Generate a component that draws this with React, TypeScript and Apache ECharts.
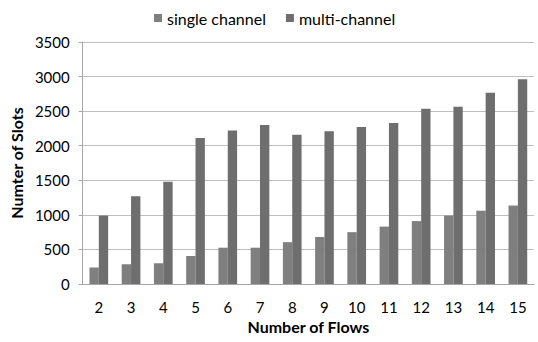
import React, { useEffect, useRef } from "react";
import * as echarts from "echarts";

const categories = ["2", "3", "4", "5", "6", "7", "8", "9", "10", "11", "12", "13", "14", "15"];
const singleChannel = [240, 285, 300, 405, 525, 525, 605, 680, 750, 830, 910, 990, 1060, 1135];
const multiChannel = [990, 1270, 1480, 2110, 2220, 2300, 2160, 2210, 2270, 2330, 2535, 2565, 2765, 2960];
const seriesNames = ["single channel", "multi-channel"];

const FONT = "Lato, 'Open Sans', sans-serif";

export default function App() {
  const ref = useRef<HTMLDivElement>(null);
  useEffect(() => {
    if (!ref.current) return;
    const chart = echarts.init(ref.current, undefined, { renderer: "svg" });
    chart.setOption({
      animation: false,
      backgroundColor: "#ffffff",
      textStyle: { fontFamily: FONT },
      legend: {
        data: seriesNames,
        left: 149,
        top: 5,
        itemWidth: 8,
        itemHeight: 8,
        itemGap: 20,
        icon: "rect",
        textStyle: { fontFamily: FONT, fontSize: 16, color: "#000" },
      },
      grid: { left: 82, right: 4, top: 42, bottom: 58, containLabel: false },
      xAxis: {
        type: "category",
        data: categories,
        name: "Number of Flows",
        nameLocation: "middle",
        nameGap: 30,
        nameTextStyle: { fontFamily: FONT, fontSize: 16, fontWeight: "bold", color: "#000" },
        axisLine: { lineStyle: { color: "#a6a6a6" } },
        axisTick: { show: false },
        axisLabel: { fontFamily: FONT, fontSize: 15, color: "#000", margin: 15 },
      },
      yAxis: {
        type: "value",
        min: 0,
        max: 3500,
        interval: 500,
        name: "Numter of Slots",
        nameLocation: "middle",
        nameGap: 46,
        nameTextStyle: { fontFamily: FONT, fontSize: 16, fontWeight: "bold", color: "#000" },
        axisLine: { show: true, lineStyle: { color: "#a6a6a6" } },
        axisTick: { show: true, length: 4, lineStyle: { color: "#a6a6a6" } },
        axisLabel: {
          fontFamily: FONT,
          fontSize: 15,
          color: "#000",
          margin: 13,
          formatter: (v: number) => String(v),
        },
        splitLine: { lineStyle: { color: "#bfbfbf" } },
      },
      series: [
        {
          name: seriesNames[0],
          type: "bar",
          data: singleChannel,
          barGap: "0%",
          barCategoryGap: "42%",
          itemStyle: { color: "#7f7f7f" },
        },
        {
          name: seriesNames[1],
          type: "bar",
          data: multiChannel,
          barGap: "0%",
          barCategoryGap: "42%",
          itemStyle: { color: "#6e6e6e" },
        },
      ],
    });
    return () => chart.dispose();
  }, []);
  return (
    <div
      ref={ref}
      style={{ position: "fixed", left: 0, top: 0, width: 538, height: 342 }}
    />
  );
}
